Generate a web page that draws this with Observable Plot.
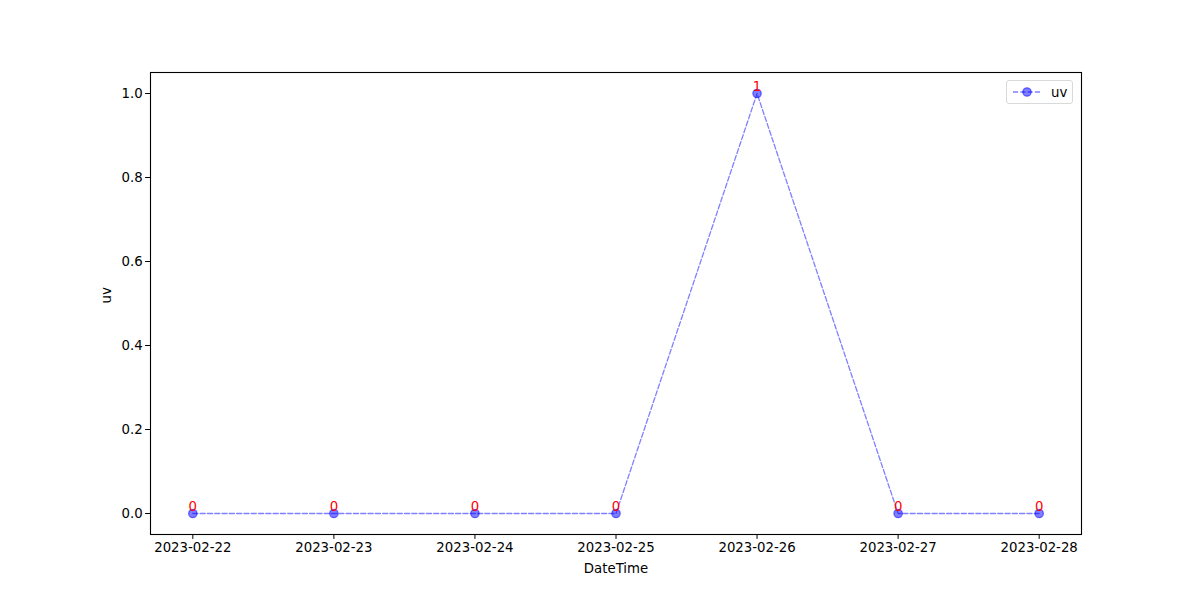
<!DOCTYPE html>
<html><head><meta charset="utf-8">
<script src="https://cdn.jsdelivr.net/npm/d3@7"></script>
<script src="https://cdn.jsdelivr.net/npm/@observablehq/plot@0.6"></script>
<style>
body{margin:0;background:#fff;font-family:"DejaVu Sans",sans-serif;}
#wrap{position:relative;width:1200px;height:600px;}
#legend{position:absolute;left:1006px;top:80px;width:67px;height:24px;border:1px solid #d9d9d9;border-radius:3px;background:#fff;box-sizing:border-box;font-size:13.9px;}
</style></head><body>
<div id="wrap"></div>
<script>
const dates = ["2023-02-22","2023-02-23","2023-02-24","2023-02-25","2023-02-26","2023-02-27","2023-02-28"];
const uv = [0,0,0,0,1,0,0];
const yTicks = [0,0.2,0.4,0.6,0.8,1.0];

const data = dates.map((d,i)=>({date:new Date(d+"T00:00:00Z"), uv:uv[i]}));
const t0 = data[0].date.getTime(), t1 = data[data.length-1].date.getTime();
const pad = (t1-t0)*0.05;
const fmt = d3.utcFormat("%Y-%m-%d");

const chart = Plot.plot({
  width:1200, height:600,
  marginLeft:150, marginRight:119, marginTop:72, marginBottom:66,
  style:{fontFamily:"DejaVu Sans, sans-serif", fontSize:"13.3px", color:"#000", background:"#fff"},
  x:{type:"utc", domain:[new Date(t0-pad), new Date(t1+pad)]},
  y:{domain:[-0.05,1.05]},
  marks:[
    Plot.frame({stroke:"#000", strokeWidth:1.1}),
    Plot.axisX({ticks:data.map(d=>d.date), tickFormat:fmt, tickSize:4.9, tickPadding:3, fontSize:13.3, label:null}),
    Plot.axisY({ticks:yTicks, tickFormat:d3.format(".1f"), tickSize:4.9, tickPadding:3, fontSize:13.3, label:null}),
    Plot.text(["DateTime"],{frameAnchor:"bottom", dy:29, fontSize:13.3, lineAnchor:"top"}),
    Plot.text(["uv"],{frameAnchor:"left", dx:-44, rotate:-90, fontSize:13.3}),
    Plot.line(data,{x:"date", y:"uv", stroke:"blue", strokeOpacity:0.5, strokeWidth:1.3, strokeDasharray:"5.1,2.2"}),
    Plot.dot(data,{x:"date", y:"uv", r:4.2, fill:"blue", fillOpacity:0.5, stroke:"blue", strokeOpacity:0.5, strokeWidth:1.3}),
    Plot.text(data,{x:"date", y:"uv", text:d=>String(d.uv), fill:"red", fontSize:13.3, lineAnchor:"bottom", dy:-3})
  ]
});
const wrap = document.getElementById("wrap");
wrap.appendChild(chart);
const leg = document.createElement("div");
leg.id="legend";
leg.innerHTML = `<svg width="67" height="24" style="position:absolute;left:0;top:0"><line x1="6" x2="34" y1="11" y2="11" stroke="blue" stroke-opacity="0.5" stroke-width="1.3" stroke-dasharray="5.1,2.2"/><circle cx="20" cy="11" r="4.2" fill="blue" fill-opacity="0.5" stroke="blue" stroke-opacity="0.5" stroke-width="1.3"/><text x="44" y="16" font-size="13.3" font-family="DejaVu Sans, sans-serif">uv</text></svg>`;
wrap.appendChild(leg);
</script>
</body></html>
